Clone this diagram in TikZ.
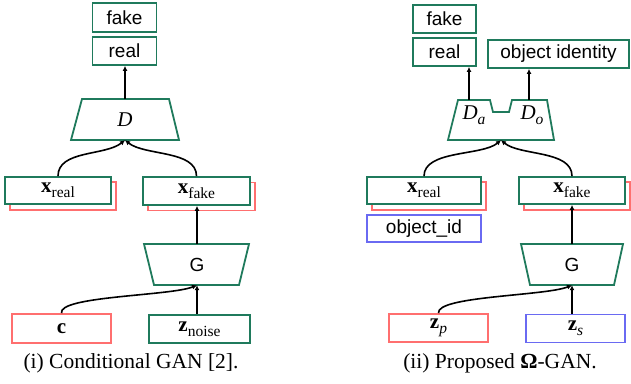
\documentclass[tikz,border=0pt]{standalone}
\usepackage{fontspec}
\setmainfont{Liberation Serif}
\setsansfont{Liberation Sans}
\usetikzlibrary{arrows.meta}
\definecolor{ganG}{HTML}{1F7A5C}
\definecolor{ganR}{HTML}{FF6F6F}
\definecolor{ganB}{HTML}{6A6AF2}
\newcommand{\ganvec}[2]{\textbf{#1}\raisebox{-0.25em}{\fontsize{15.5}{18}\selectfont #2}}
\newcommand{\ganit}[2]{\textit{#1}\raisebox{-0.25em}{\fontsize{15.5}{18}\selectfont\itshape #2}}
\begin{document}
\begin{tikzpicture}[x=1pt,y=-1pt,
  base/.style={inner sep=0pt, line width=1.8pt, fill=white},
  gbox/.style={base, draw=ganG},
  rbox/.style={base, draw=ganR},
  bbox/.style={base, draw=ganB},
  stxt/.style={font=\sffamily\fontsize{19}{22}\selectfont},
  mtxt/.style={font=\fontsize{21}{24}\selectfont},
  ghost/.style={inner sep=0pt},
  trap/.style={draw=ganG, line width=1.8pt, line join=miter},
  arr/.style={draw=black, line width=1.6pt, -{Latex[length=5pt,width=5pt]}},
  captxt/.style={font=\fontsize{21.5}{25}\selectfont}
]
\useasboundingbox (0,0) rectangle (631,383);

% ---------------- left panel ----------------
\node[gbox,stxt,minimum width=64pt,minimum height=29pt] (fakeL) at (124.5,17.5) {fake};
\node[gbox,stxt,minimum width=64pt,minimum height=28pt] (realL) at (124.5,51) {real};

\draw[trap] (82,99) -- (169,99) -- (179,140) -- (71,140) -- cycle;
\node[ghost,minimum width=108pt,minimum height=41pt,mtxt] (DL) at (125,119.5) {\textit{D}};
\draw[arr] (DL.north) -- (DL.north |- realL.south);

\node[rbox,minimum width=106pt,minimum height=28pt] (xrealLs) at (63,196) {};
\node[gbox,mtxt,minimum width=106pt,minimum height=27pt] (xrealL) at (58,190.5) {\ganvec{x}{real}};
\node[rbox,minimum width=107pt,minimum height=28pt] (xfakeLs) at (201.5,196.5) {};
\node[gbox,mtxt,minimum width=107pt,minimum height=28pt] (xfakeL) at (196.5,191) {\ganvec{x}{fake}};

\coordinate (mL) at (DL.south);
\draw[arr] (xrealL.north) .. controls (58,150) and (105,156) .. (mL);
\draw[arr] (xfakeL.north) .. controls (196.5,150) and (145,156) .. (mL);

\draw[trap] (144,244) -- (249,244) -- (239,285) -- (154,285) -- cycle;
\node[ghost,stxt,minimum width=104pt,minimum height=41pt] (GL) at (197,264.5) {G};
\draw[arr] (GL.north) -- (GL.north |- xfakeL.south);

\node[rbox,mtxt,minimum width=99pt,minimum height=29pt] (cL) at (61.5,328.5) {\textbf{c}};
\node[gbox,mtxt,minimum width=101pt,minimum height=28pt] (znL) at (199.5,329) {\ganvec{z}{noise}};
\draw[arr] (GL.south |- znL.north) -- (GL.south);
\draw[arr] (cL.north) .. controls (58,296) and (170,296) .. (GL.south);

\node[captxt] (capL) at (131,363) {(i) Conditional GAN [2].};

% ---------------- right panel ----------------
\node[gbox,stxt,minimum width=63pt,minimum height=28pt] (fakeR) at (444.5,19) {fake};
\node[gbox,stxt,minimum width=63pt,minimum height=28pt] (realR) at (444.5,52) {real};
\node[gbox,stxt,minimum width=141pt,minimum height=28pt] (objR) at (558.5,54) {object identity};

\draw[trap] (458,100) -- (490,100) -- (493,112) -- (509,112) -- (512,100) -- (547,100) -- (554,140) -- (448,140) -- cycle;
\node[ghost,minimum width=106pt,minimum height=40pt] (DR) at (501,120) {};
\node[ghost,mtxt] (Da) at (474,115) {\ganit{D}{a}};
\node[ghost,mtxt] (Do) at (532,115) {\ganit{D}{o}};
\coordinate (DRa) at (469,100);
\coordinate (DRo) at (529,100);
\draw[arr] (DRa) -- (DRa |- realR.south);
\draw[arr] (DRo) -- (DRo |- objR.south);

\node[rbox,minimum width=114pt,minimum height=28pt] (xrealRs) at (429,196) {};
\node[gbox,mtxt,minimum width=114pt,minimum height=27pt] (xrealR) at (424,190.5) {\ganvec{x}{real}};
\node[bbox,stxt,minimum width=114pt,minimum height=27pt] (objid) at (424,228.5) {object\_id};
\node[rbox,minimum width=106pt,minimum height=28pt] (xfakeRs) at (577,196) {};
\node[gbox,mtxt,minimum width=106pt,minimum height=27pt] (xfakeR) at (572,190.5) {\ganvec{x}{fake}};

\coordinate (mR) at (DR.south);
\draw[arr] (xrealR.north) .. controls (424,150) and (482,156) .. (mR);
\draw[arr] (xfakeR.north) .. controls (572,150) and (520,156) .. (mR);

\draw[trap] (521,244) -- (623,244) -- (614,285) -- (530,285) -- cycle;
\node[ghost,stxt,minimum width=102pt,minimum height=41pt] (GR) at (572,264.5) {G};
\draw[arr] (GR.north) -- (GR.north |- xfakeR.south);

\node[rbox,mtxt,minimum width=99pt,minimum height=28pt] (zp) at (438.5,328) {\ganvec{z}{\itshape p}};
\node[bbox,mtxt,minimum width=99pt,minimum height=28pt] (zs) at (575.5,328.5) {\ganvec{z}{\itshape s}};
\draw[arr] (GR.south |- zs.north) -- (GR.south);
\draw[arr] (zp.north) .. controls (436,296) and (545,296) .. (GR.south);

\node[captxt] (capR) at (500,363) {(ii) Proposed {\bfseries Ω}-GAN.};
\end{tikzpicture}
\end{document}
